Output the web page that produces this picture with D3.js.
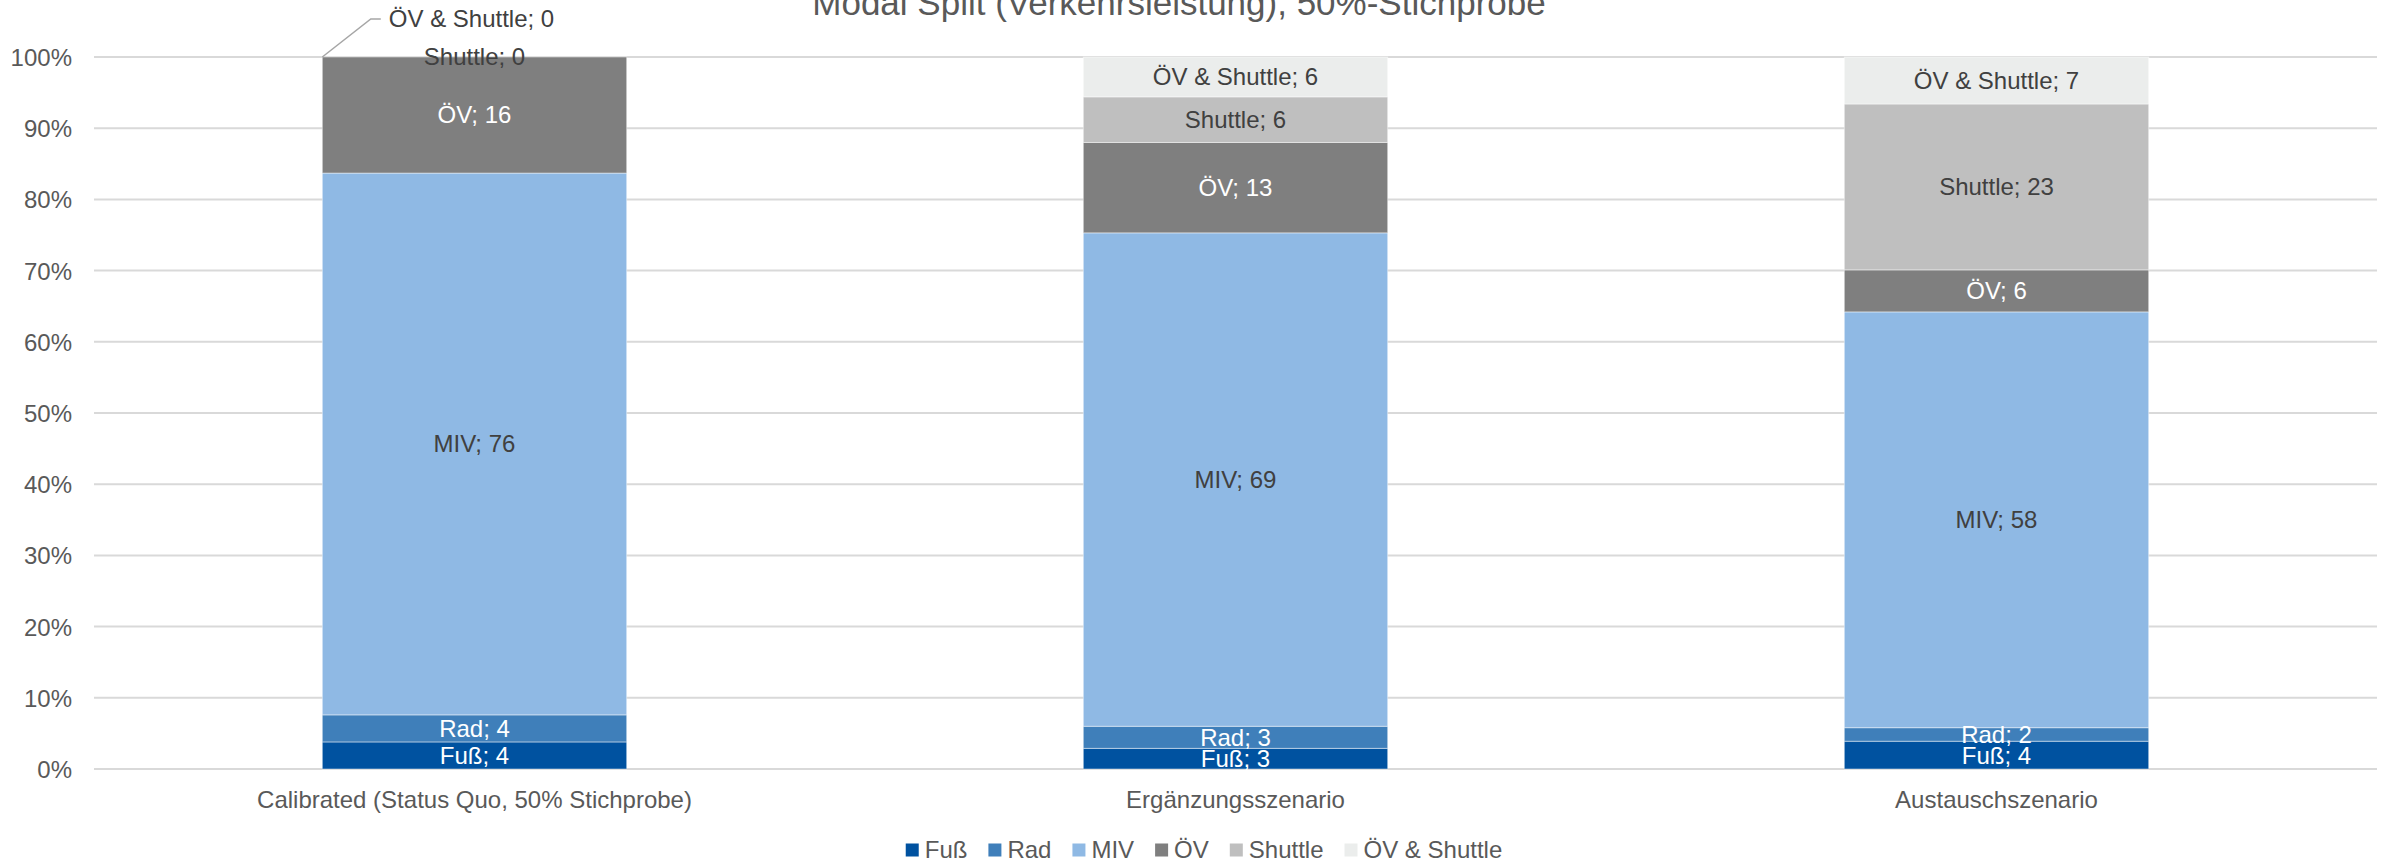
<!DOCTYPE html>
<html>
<head>
<meta charset="utf-8">
<script src="https://cdn.jsdelivr.net/npm/d3@7"></script>
<style>
  html, body { margin: 0; padding: 0; background: #ffffff; }
  svg { display: block; font-family: "Liberation Sans", Arial, sans-serif; }
</style>
</head>
<body>
<svg id="chart" width="2384" height="862"></svg>
<script>
// Modal split by mode share (Verkehrsleistung), per scenario
const categories = ["Calibrated (Status Quo, 50% Stichprobe)", "Ergänzungsszenario", "Austauschszenario"];
const modes = ["Fuß", "Rad", "MIV", "ÖV", "Shuttle", "ÖV & Shuttle"];
const fuss = [3.8, 2.9, 3.9];
const rad = [3.8, 3.1, 1.9];
const miv = [76.1, 69.3, 58.4];
const oev = [16.3, 12.7, 5.9];
const shuttle = [0, 6.4, 23.3];
const oevShuttle = [0, 5.6, 6.6];
const yTicks = [0, 0.1, 0.2, 0.3, 0.4, 0.5, 0.6, 0.7, 0.8, 0.9, 1.0];
const chartTitle = "Modal Split (Verkehrsleistung), 50%-Stichprobe";

const colors = ["#0052a0", "#3f7fba", "#8fb9e4", "#7f7f7f", "#bfbfbf", "#ebedec"];
const labelColors = ["#ffffff", "#ffffff", "#404040", "#ffffff", "#404040", "#404040"];

const seriesValues = [fuss, rad, miv, oev, shuttle, oevShuttle];
const rows = categories.map((c, i) => {
  const r = { category: c };
  modes.forEach((m, k) => { r[m] = seriesValues[k][i]; });
  return r;
});

const svg = d3.select("#chart");
const plotLeft = 94, plotRight = 2377, plotTop = 57, plotBottom = 769;

const x = d3.scaleBand().domain(categories).range([plotLeft, plotRight]).paddingInner(0.6).paddingOuter(0.3);
const y = d3.scaleLinear().domain([0, 1]).range([plotBottom, plotTop]);

const stack = d3.stack().keys(modes).offset(d3.stackOffsetExpand);
const stacked = stack(rows);

// gridlines
svg.append("g")
  .selectAll("line")
  .data(yTicks)
  .join("line")
  .attr("x1", plotLeft).attr("x2", plotRight)
  .attr("y1", d => y(d)).attr("y2", d => y(d))
  .attr("stroke", "#d9d9d9").attr("stroke-width", 2);

// y axis tick labels
const yAxis = d3.axisLeft(y).tickValues(yTicks).tickFormat(d3.format(".0%")).tickSize(0).tickPadding(0);
const gy = svg.append("g").attr("transform", `translate(${plotLeft - 22},0)`).call(yAxis);
gy.select(".domain").remove();
gy.selectAll("text")
  .attr("font-size", 24).attr("fill", "#595959")
  .attr("font-family", "Liberation Sans, Arial, sans-serif")
  .attr("dy", "0.35em");

// x axis category labels
const xAxis = d3.axisBottom(x).tickSize(0).tickPadding(0);
const gx = svg.append("g").attr("transform", `translate(0,${plotBottom + 31})`).call(xAxis);
gx.select(".domain").remove();
gx.selectAll("text")
  .attr("font-size", 24).attr("fill", "#595959")
  .attr("font-family", "Liberation Sans, Arial, sans-serif")
  .attr("dy", "0.35em");

// stacked bars
const layers = svg.append("g")
  .selectAll("g")
  .data(stacked)
  .join("g")
  .attr("fill", (d, i) => colors[i]);

layers.selectAll("rect")
  .data(d => d)
  .join("rect")
  .attr("x", d => x(d.data.category))
  .attr("width", x.bandwidth())
  .attr("y", d => y(d[1]))
  .attr("height", d => y(d[0]) - y(d[1]))
  .attr("stroke", "#ffffff")
  .attr("stroke-opacity", 0.45)
  .attr("stroke-width", 1);

// data labels
const labels = svg.append("g");
stacked.forEach((layer, k) => {
  layer.forEach((d, i) => {
    const value = d.data[layer.key];
    const text = `${layer.key}; ${d3.format(".0f")(value)}`;
    const cx = x(d.data.category) + x.bandwidth() / 2;
    const cy = (y(d[0]) + y(d[1])) / 2;
    const isLastZero = value === 0 && k === modes.length - 1;
    if (isLastZero) {
      // zero-height top segment: label lifted above the bar with a leader line
      const lx = cx - 3, ly = y(d[1]) - 38;
      const t = labels.append("text")
        .attr("x", lx).attr("y", ly)
        .attr("text-anchor", "middle").attr("dy", "0.35em")
        .attr("font-size", 24).attr("fill", "#404040")
        .text(text);
      const w = t.node().getComputedTextLength();
      const tl = lx - w / 2;
      labels.append("polyline")
        .attr("points", [[x(d.data.category), y(d[1])], [tl - 18, ly], [tl - 8, ly]].map(p => p.join(",")).join(" "))
        .attr("fill", "none").attr("stroke", "#a6a6a6").attr("stroke-width", 1.5);
    } else {
      labels.append("text")
        .attr("x", cx).attr("y", cy)
        .attr("text-anchor", "middle").attr("dy", "0.35em")
        .attr("font-size", 24).attr("fill", labelColors[k])
        .text(text);
    }
  });
});

// title
svg.append("text")
  .attr("x", 1179).attr("y", 15)
  .attr("text-anchor", "middle")
  .attr("font-size", 35).attr("fill", "#595959")
  .text(chartTitle);

// legend
const legend = svg.append("g");
const sq = 13, gapText = 6, gapItem = 21;
let cursor = 0;
const items = [];
modes.forEach((m, i) => {
  const g = legend.append("g");
  g.append("rect").attr("x", 0).attr("y", -sq / 2).attr("width", sq).attr("height", sq).attr("fill", colors[i]);
  const t = g.append("text").attr("x", sq + gapText).attr("y", 0).attr("dy", "0.35em")
    .attr("font-size", 24).attr("fill", "#595959").text(m);
  const w = sq + gapText + t.node().getComputedTextLength();
  items.push({ g, offset: cursor });
  cursor += w + gapItem;
});
const legendWidth = cursor - gapItem;
const legendLeft = 1204 - legendWidth / 2;
items.forEach(it => it.g.attr("transform", `translate(${legendLeft + it.offset},850)`));
</script>
</body>
</html>
